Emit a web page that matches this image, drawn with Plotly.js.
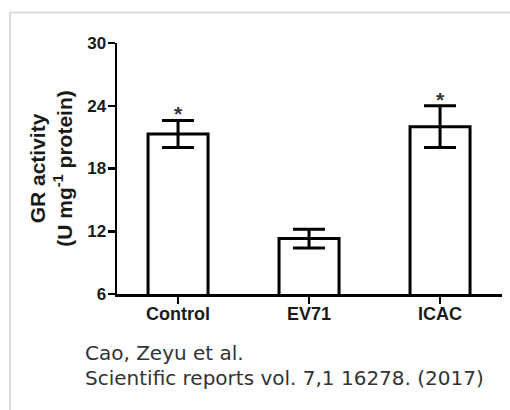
<!DOCTYPE html>
<html>
<head>
<meta charset="utf-8">
<script src="https://cdn.plot.ly/plotly-3.0.1.min.js"></script>
<style>
  html, body { margin: 0; padding: 0; background: #fff; }
  #chart { width: 510px; height: 410px; }
</style>
</head>
<body>
<div id="chart"></div>
<script>
// Data
const categories = ["Control", "EV71", "ICAC"];
const grActivity = [21.3, 11.3, 22.0];      // U mg^-1 protein
const grError    = [1.3, 0.9, 2.0];         // error bar half-lengths
const significance = ["*", "", "*"];
const yTicks = [6, 12, 18, 24, 30];
const captionLines = ["Cao, Zeyu et al.", "Scientific reports vol. 7,1 16278. (2017)"];

const barTrace = {
  type: "bar",
  x: categories,
  y: grActivity,
  width: 0.458,
  marker: { color: "#ffffff", line: { color: "#000000", width: 3 } },
  error_y: { type: "data", array: grError, visible: true, color: "#000000", thickness: 3, width: 16 },
  hoverinfo: "none",
  showlegend: false
};

// significance stars above the error bars
const starAnnotations = [];
categories.forEach((c, i) => {
  if (significance[i]) {
    starAnnotations.push({
      xref: "x", yref: "y", x: c, y: grActivity[i] + grError[i],
      xanchor: "center", yanchor: "bottom", yshift: -7,
      text: significance[i], showarrow: false,
      font: { family: "Liberation Sans, Arial, sans-serif", size: 21, color: "#333333", weight: "bold" }
    });
  }
});

const captionFont = { family: "DejaVu Sans, sans-serif", size: 20, color: "#333333" };

const layout = {
  width: 510,
  height: 410,
  margin: { l: 117, r: 8, t: 43, b: 116, pad: 0 },
  paper_bgcolor: "#ffffff",
  plot_bgcolor: "#ffffff",
  font: { family: "Liberation Sans, Arial, sans-serif", color: "#1a1a1a" },
  xaxis: {
    type: "category",
    range: [-0.466, 2.473],
    showline: true, linecolor: "#000000", linewidth: 2.5,
    ticks: "outside", ticklen: 7, tickwidth: 2, tickcolor: "#000000",
    ticklabelstandoff: -5,
    showgrid: false, zeroline: false,
    tickfont: { size: 18, weight: "bold", color: "#1a1a1a" },
    fixedrange: true
  },
  yaxis: {
    range: [6, 30],
    tickvals: yTicks,
    ticktext: yTicks.map(String),
    showline: true, linecolor: "#000000", linewidth: 2.5,
    ticks: "outside", ticklen: 7, tickwidth: 2.5, tickcolor: "#000000",
    ticklabelstandoff: -2,
    showgrid: false, zeroline: false,
    tickfont: { size: 17, weight: "bold", color: "#1a1a1a" },
    title: {
      text: "GR activity<br>(U mg<sup>-1</sup> protein)",
      font: { size: 21, weight: "bold", color: "#1a1a1a" },
      standoff: 9
    },
    fixedrange: true
  },
  shapes: [
    { type: "line", xref: "paper", yref: "paper", x0: -0.28, x1: 1.05, y0: 1.1215, y1: 1.1215,
      line: { color: "#dcdcdc", width: 2 } },
    { type: "line", xref: "paper", yref: "paper", x0: -0.2779, x1: -0.2779, y0: 1.1215, y1: -0.55,
      line: { color: "#dcdcdc", width: 2 } }
  ],
  annotations: starAnnotations.concat([
    { xref: "paper", yref: "paper", x: -0.0883, y: -0.2351, xanchor: "left", yanchor: "middle",
      text: captionLines[0], showarrow: false, font: captionFont },
    { xref: "paper", yref: "paper", x: -0.0883, y: -0.3347, xanchor: "left", yanchor: "middle",
      text: captionLines[1], showarrow: false, font: captionFont }
  ])
};

Plotly.newPlot("chart", [barTrace], layout, { displayModeBar: false, staticPlot: true });
</script>
</body>
</html>
